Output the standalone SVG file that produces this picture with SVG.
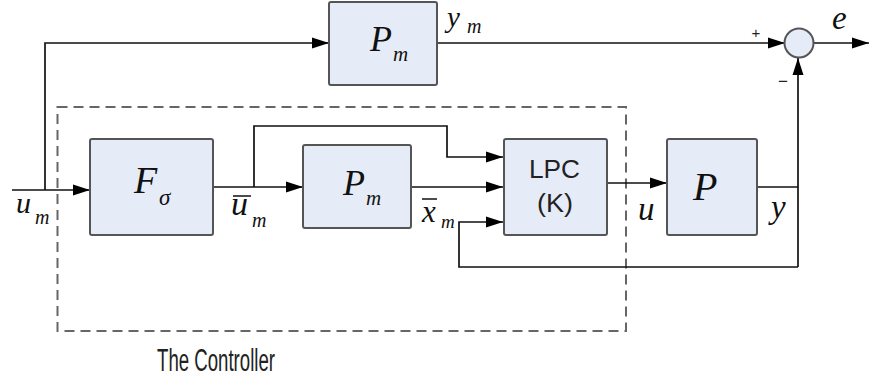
<svg xmlns="http://www.w3.org/2000/svg" width="869" height="381" viewBox="0 0 869 381">
<defs>
<marker id="ah" markerUnits="userSpaceOnUse" markerWidth="18" markerHeight="12" refX="17" refY="6" orient="auto">
<path d="M0,0.5 L17,6 L0,11.5 z" fill="#000"/>
</marker>
<style>
.box{fill:#e6ecf7;stroke:#555;stroke-width:2}
.ln{fill:none;stroke:#111;stroke-width:1.7}
.lna{fill:none;stroke:#111;stroke-width:1.7;marker-end:url(#ah)}
.m{font-family:"Liberation Serif","DejaVu Serif",serif;font-style:italic;fill:#111}
.s{font-family:"Liberation Sans",Arial,sans-serif;fill:#222}
</style>
</defs>
<rect x="0" y="0" width="869" height="381" fill="#fff"/>
<rect x="57.5" y="107" width="568.5" height="224" fill="none" stroke="#666" stroke-width="2" stroke-dasharray="10,6"/>
<g id="connectors">
<polyline class="ln" points="12,190 45,190"/>
<polyline class="lna" points="45,190 90,190"/>
<polyline class="lna" points="45,190 45,43 329,43"/>
<polyline class="lna" points="437,43 785,43"/>
<polyline class="lna" points="814,43 869,43"/>
<polyline class="lna" points="213,187 303,187"/>
<polyline class="lna" points="254,187 254,126 447,126 447,157 503,157"/>
<polyline class="lna" points="411,187 503,187"/>
<polyline class="lna" points="607,183 667,183"/>
<polyline class="ln" points="757,187 798,187"/>
<polyline class="lna" points="798,267 798,58"/>
<polyline class="lna" points="798,267 459,267 459,222 503,222"/>
</g>
<g id="pm_top">
<rect class="box" x="329" y="2" width="108" height="83" rx="2"/>
<text class="m" x="370" y="51" font-size="36">P</text>
<text class="m" x="393" y="61" font-size="21">m</text>
</g>
<g id="f_sigma">
<rect class="box" x="90" y="139" width="123" height="96" rx="2"/>
<text class="m" x="134" y="193" font-size="38">F</text>
<text class="m" x="159" y="205" font-size="23">σ</text>
</g>
<g id="pm_inner">
<rect class="box" x="303" y="145" width="108" height="83" rx="2"/>
<text class="m" x="343" y="195" font-size="36">P</text>
<text class="m" x="366" y="205" font-size="21">m</text>
</g>
<g id="lpc">
<rect class="box" x="504" y="139" width="103" height="96" rx="2"/>
<text class="s" x="529" y="178" font-size="25" textLength="51" lengthAdjust="spacingAndGlyphs">LPC</text>
<text class="s" x="537" y="212" font-size="25" textLength="36" lengthAdjust="spacingAndGlyphs">(K)</text>
</g>
<g id="plant">
<rect class="box" x="667" y="139" width="90" height="96" rx="2"/>
<text class="m" x="693" y="200" font-size="40">P</text>
</g>
<g id="sum">
<circle cx="799" cy="43" r="14.5" fill="#e6ecf7" stroke="#555" stroke-width="2"/>
<text class="s" x="756" y="38" font-size="15" text-anchor="middle">+</text>
<text class="s" x="783" y="87" font-size="17" text-anchor="middle">−</text>
</g>
<g id="labels">
<text class="m" x="447" y="27" font-size="29">y</text>
<text class="m" x="467" y="33" font-size="20">m</text>
<text class="m" x="832" y="29" font-size="33">e</text>
<text class="m" x="16" y="213" font-size="30">u</text>
<text class="m" x="35" y="224" font-size="20">m</text>
<text class="m" x="231" y="215" font-size="34">u</text>
<line x1="233" y1="196" x2="251" y2="196" stroke="#111" stroke-width="1.5"/>
<text class="m" x="252" y="227" font-size="20">m</text>
<text class="m" x="422" y="222" font-size="31">x</text>
<line x1="422" y1="199" x2="437" y2="199" stroke="#111" stroke-width="1.5"/>
<text class="m" x="441" y="228" font-size="19">m</text>
<text class="m" x="638" y="220" font-size="33">u</text>
<text class="m" x="771" y="218" font-size="33">y</text>
<text class="s" x="157" y="371" font-size="31" textLength="118" lengthAdjust="spacingAndGlyphs">The Controller</text>
</g>
</svg>
